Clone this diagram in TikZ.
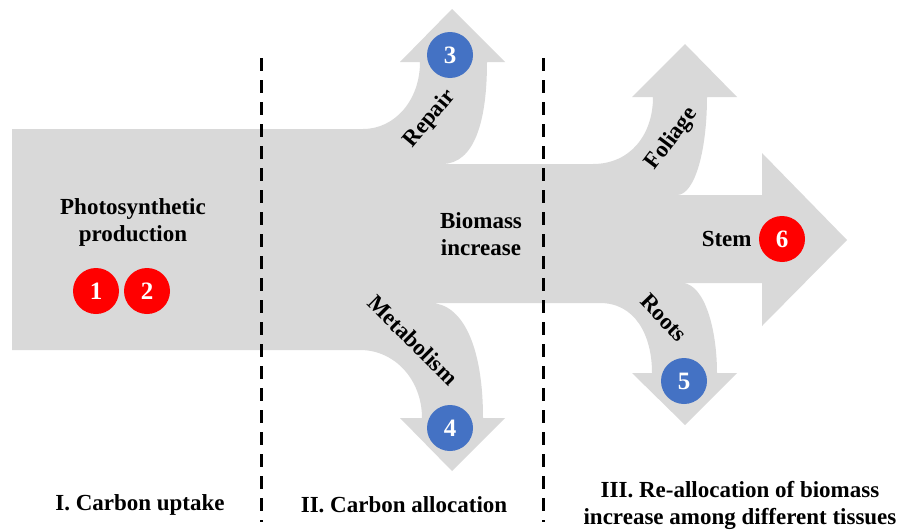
\documentclass[tikz,border=0pt]{standalone}
\usepackage{fontspec}
\setmainfont{Liberation Serif}
\usepackage{tikz}
\usetikzlibrary{positioning}
\definecolor{flowgray}{HTML}{D9D9D9}
\definecolor{numred}{HTML}{FF0000}
\definecolor{numblue}{HTML}{4472C4}
\newcommand{\Flow}{(12,129) -- (363,129)
  .. controls (395,129) and (420,100) .. (420,62) -- (400,62) -- (452,9) -- (505,62) -- (487,62)
  .. controls (487,120) and (475,164) .. (442,164) -- (593,164)
  .. controls (630,164) and (653,135) .. (653,97) -- (632,97) -- (685,44) -- (737,97) -- (707,97)
  .. controls (707,150) and (695,195) .. (677,195) -- (762,195) -- (762,153) -- (847,240) -- (762,326) -- (762,283) -- (683,283)
  .. controls (705,285) and (717,330) .. (717,373) -- (737,373) -- (685,425) -- (632,373) -- (652,373)
  .. controls (652,335) and (635,303) .. (600,303) -- (430,303)
  .. controls (462,303) and (483,345) .. (483,418) -- (505,418) -- (452,471) -- (400,418) -- (422,418)
  .. controls (422,380) and (395,350) .. (360,350) -- (12,350) -- cycle}
\tikzset{
  lbl/.style={font=\bfseries\fontsize{23}{27}\selectfont,align=center,inner sep=1pt},
  num/.style={circle,minimum size=46pt,inner sep=0pt,text=white,font=\bfseries\fontsize{25}{27}\selectfont},
  divider/.style={line width=3pt,dash pattern=on 13pt off 9pt}
}

\begin{document}
\begin{tikzpicture}[x=1pt,y=-1pt]
\useasboundingbox (0,0) rectangle (900,530);
\fill[flowgray] \Flow;
\coordinate (d1t) at (261,58);
\coordinate (d1b) at (261,522);
\coordinate (d2t) at (543,58);
\coordinate (d2b) at (543,522);
\draw[divider] (d1t) -- (d1b);
\draw[divider] (d2t) -- (d2b);
\node[lbl] (photo) at (133,222) {Photosynthetic\\production};
\node[num,fill=numred] (n1) at (96,291) {1};
\node[num,fill=numred] (n2) at (147,291) {2};
\node[lbl] (biomass) at (481,234) {Biomass\\increase};
\node[num,fill=numblue] (n3) at (450,55) {3};
\node[lbl,rotate=50] (repair) at (430,119) {Repair};
\node[num,fill=numblue] (n4) at (450,428) {4};
\node[lbl,rotate=-45] (metab) at (413,340) {Metabolism};
\node[lbl,rotate=53] (foliage) at (672,139) {Foliage};
\node[num,fill=numblue] (n5) at (684,381) {5};
\node[lbl,rotate=-46] (roots) at (664,318) {Roots};
\node[num,fill=numred] (n6) at (782,239) {6};
\node[lbl,left=6pt of n6] (stem) {Stem};
\node[lbl] (uptake) at (140,505) {I. Carbon uptake};
\node[lbl] (alloc) at (404,505) {II. Carbon allocation};
\node[lbl] (realloc) at (740,505) {III. Re-allocation of biomass\\increase among different tissues};
\end{tikzpicture}
\end{document}
